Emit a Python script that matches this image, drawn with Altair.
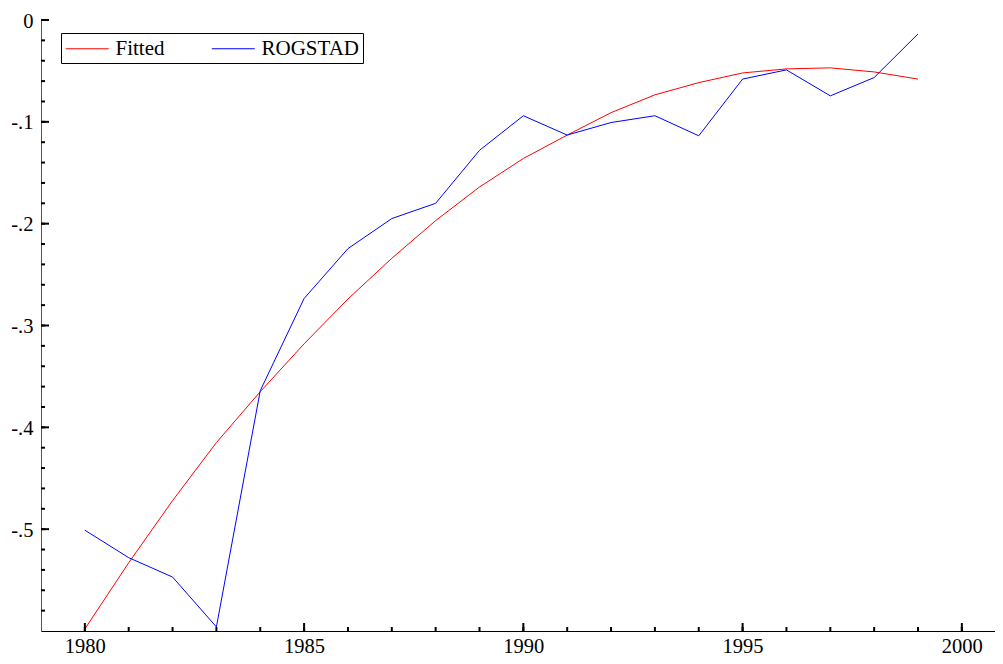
import altair as alt
import pandas as pd

years = list(range(1980, 2000))
fitted = [-0.598, -0.533, -0.472, -0.415, -0.365, -0.318, -0.274, -0.234, -0.197, -0.164,
          -0.136, -0.113, -0.091, -0.0735, -0.0615, -0.052, -0.048, -0.047, -0.051, -0.058]
rogstad = [-0.501, -0.528, -0.547, -0.596, -0.364, -0.2735, -0.2245, -0.195, -0.180, -0.128,
           -0.094, -0.113, -0.1007, -0.094, -0.1137, -0.058, -0.049, -0.0745, -0.0565, -0.0137]
series_names = ["Fitted", "ROGSTAD"]
series_colors = ["#ff0000", "#0000ff"]
x_label_values = [1980, 1985, 1990, 1995, 2000]
y_label_values = [0, -0.1, -0.2, -0.3, -0.4, -0.5]
x_minor_values = list(range(1980, 2001))
y_minor_values = [round(-0.58 + 0.02 * i, 2) for i in range(30)]

W = 954
H = 611
PX_PER_YEAR = 43.85
FONT = "Liberation Serif"
xdom = [1979, 1979 + W / PX_PER_YEAR]
ydom = [-0.6, 0]
MAJOR = 8
MINOR = 4
TICK_COLOR = "#000000"

df = pd.DataFrame({
    "year": years * 2,
    "value": fitted + rogstad,
    "series": [series_names[0]] * len(years) + [series_names[1]] * len(years),
})
xmaj = pd.DataFrame({"year": x_label_values})
xmin = pd.DataFrame({"year": x_minor_values})
ymaj = pd.DataFrame({"value": y_label_values})
ymin = pd.DataFrame({"value": y_minor_values})

xs = alt.Scale(domain=xdom, nice=False, zero=False)
ys = alt.Scale(domain=ydom, nice=False, zero=False)

X_AXIS = alt.Axis(
    orient="bottom", values=x_label_values, format="d", ticks=False, tickSize=0,
    labelPadding=5, labelFontSize=20.5, labelFont=FONT, labelColor="black",
    labelFlush=False, domainColor="black", domainWidth=1, grid=False, title=None)
Y_AXIS = alt.Axis(
    orient="left", values=y_label_values,
    labelExpr="datum.value == 0 ? '0' : '-.' + round(abs(datum.value) * 10)",
    ticks=False, tickSize=0, labelPadding=8, labelFontSize=20.5, labelFont=FONT,
    labelColor="black", labelFlush=False, labelBaseline="middle", labelOffset=1,
    domainColor="#555555", domainWidth=1, grid=False, title=None)

lines = alt.Chart(df).mark_line(strokeWidth=1, clip=True).encode(
    x=alt.X("year:Q", scale=xs, axis=X_AXIS),
    y=alt.Y("value:Q", scale=ys, axis=Y_AXIS),
    color=alt.Color("series:N", scale=alt.Scale(domain=series_names, range=series_colors),
                    legend=alt.Legend(
                        orient="none", legendX=20, legendY=13, direction="horizontal",
                        title=None, symbolType="M-1,0H3", symbolSize=462,
                        symbolStrokeWidth=1, symbolFillColor="transparent",
                        labelFont=FONT, labelFontSize=21,
                        labelColor="black", labelOffset=27.5, columnPadding=44,
                        padding=4, strokeColor="black", fillColor="white",
                        cornerRadius=0)),
)


def x_ticks(data, length):
    return alt.Chart(data).mark_rule(color=TICK_COLOR, strokeWidth=2).encode(
        x=alt.X("year:Q", scale=xs, axis=X_AXIS),
        y=alt.value(H), y2=alt.value(H - length),
    )


def y_ticks(data, length):
    return alt.Chart(data).mark_rule(color=TICK_COLOR, strokeWidth=2).encode(
        y=alt.Y("value:Q", scale=ys, axis=Y_AXIS),
        x=alt.value(0), x2=alt.value(length),
    )


chart = alt.layer(
    lines, x_ticks(xmin, MINOR), x_ticks(xmaj, MAJOR), y_ticks(ymin, MINOR), y_ticks(ymaj, MAJOR)
).properties(
    width=W, height=H,
    padding={"left": 33, "top": 12, "right": 0, "bottom": 24},
    autosize=alt.AutoSizeParams(type="none"),
    background="white",
).configure_view(stroke=None)

chart.save("out.html", embed_options={"renderer": "svg", "actions": False})
